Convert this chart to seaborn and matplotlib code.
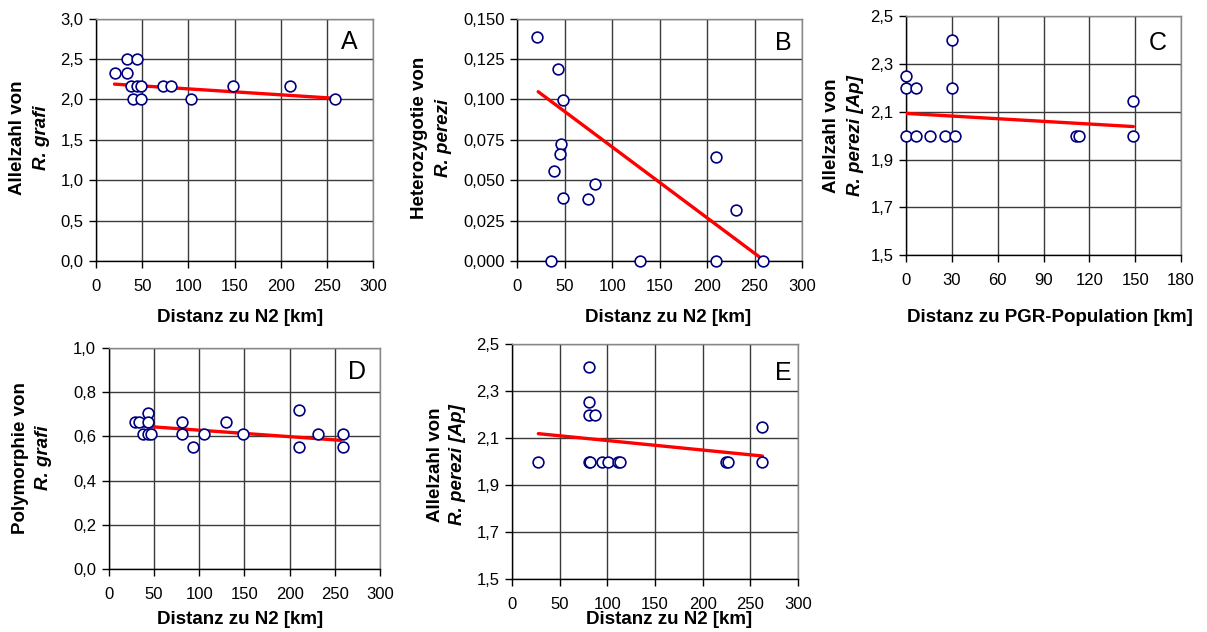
import matplotlib
matplotlib.use("Agg")
import matplotlib.pyplot as plt
import seaborn as sns
import pandas as pd

# ---------------- data ----------------
xA = [20.6, 34, 44.4, 33.6, 37.5, 44, 48.4, 39.7, 48.4, 73, 81, 103, 148, 210, 259]
yA = [2.33, 2.5, 2.5, 2.33, 2.17, 2.17, 2.17, 2.0, 2.0, 2.17, 2.17, 2.0, 2.17, 2.17, 2.0]
lineA_x = [20, 258]
lineA_y = [2.19, 2.015]

xB = [21, 42.9, 47.8, 46.4, 45, 39, 47.8, 74.5, 81.9, 35.5, 129.3, 209.4, 209.4, 230.5, 258.6]
yB = [0.1387, 0.119, 0.0997, 0.0722, 0.0662, 0.0557, 0.0388, 0.0382, 0.0479, 0.0, 0.0, 0.0646, 0.0, 0.0316, 0.0]
lineB_x = [22, 258.6]
lineB_y = [0.1048, 0.001]

xC = [0, 0, 0, 6.5, 6.5, 15.7, 25.3, 30, 30, 31.9, 111.3, 113.5, 148.8, 148.8]
yC = [2.25, 2.2, 2.0, 2.2, 2.0, 2.0, 2.0, 2.4, 2.2, 2.0, 2.0, 2.0, 2.143, 2.0]
lineC_x = [0, 148.8]
lineC_y = [2.093, 2.038]

xD = [29, 34, 44, 44, 37.6, 43.5, 46.4, 80.7, 80.7, 93.6, 105, 129.7, 148, 210.8, 210.8, 231.8, 258.7, 258.7]
yD = [0.663, 0.663, 0.704, 0.663, 0.61, 0.61, 0.61, 0.663, 0.61, 0.55, 0.61, 0.663, 0.61, 0.717, 0.55, 0.61, 0.61, 0.55]
lineD_x = [34.6, 256.5]
lineD_y = [0.647, 0.582]

xE = [27.6, 80.3, 81, 80.3, 87.3, 81, 82, 94.3, 100.6, 111, 113.8, 224.9, 226.3, 262.6, 262.6]
yE = [2.0, 2.402, 2.252, 2.2, 2.2, 2.0, 2.0, 2.0, 2.0, 2.0, 2.0, 2.0, 2.0, 2.147, 2.0]
lineE_x = [27.6, 262.6]
lineE_y = [2.119, 2.024]

xticks_N2 = [0, 50, 100, 150, 200, 250, 300]
xticks_PGR = [0, 30, 60, 90, 120, 150, 180]
yticks_A = [0.0, 0.5, 1.0, 1.5, 2.0, 2.5, 3.0]
yticklabels_A = ["0,0", "0,5", "1,0", "1,5", "2,0", "2,5", "3,0"]
yticks_B = [0.0, 0.025, 0.05, 0.075, 0.1, 0.125, 0.15]
yticklabels_B = ["0,000", "0,025", "0,050", "0,075", "0,100", "0,125", "0,150"]
yticks_Ap = [1.5, 1.7, 1.9, 2.1, 2.3, 2.5]
yticklabels_Ap = ["1,5", "1,7", "1,9", "2,1", "2,3", "2,5"]
yticks_D = [0.0, 0.2, 0.4, 0.6, 0.8, 1.0]
yticklabels_D = ["0,0", "0,2", "0,4", "0,6", "0,8", "1,0"]

xlabel_N2 = "Distanz zu N2 [km]"
xlabel_PGR = "Distanz zu PGR-Population [km]"

# ---------------- style ----------------
sns.set_theme(style="white")
plt.rcParams['font.family'] = ['Liberation Sans', 'DejaVu Sans']

W, H = 1207, 632
fig = plt.figure(figsize=(W / 100, H / 100), dpi=100)


def box(l, t, r, b):
    return [l / W, 1 - b / H, (r - l) / W, (b - t) / H]


panels = [
    dict(name="A", box=(96, 18.7, 373, 261), x=xA, y=yA, lx=lineA_x, ly=lineA_y,
         xt=xticks_N2, yt=yticks_A, ytl=yticklabels_A,
         ylab=("Allelzahl von", "R. grafi"), ylab_px=(18, 42, 138),
         xlab=xlabel_N2, xlab_px=(240, 318), letter_px=(349, 42)),
    dict(name="B", box=(517.3, 18.7, 802, 261), x=xB, y=yB, lx=lineB_x, ly=lineB_y,
         xt=xticks_N2, yt=yticks_B, ytl=yticklabels_B,
         ylab=("Heterozygotie von", "R. perezi"), ylab_px=(420, 443, 138),
         xlab=xlabel_N2, xlab_px=(668, 318), letter_px=(783, 43)),
    dict(name="C", box=(906, 16, 1181, 255.3), x=xC, y=yC, lx=lineC_x, ly=lineC_y,
         xt=xticks_PGR, yt=yticks_Ap, ytl=yticklabels_Ap,
         ylab=("Allelzahl von", "R. perezi [Ap]"), ylab_px=(832, 855, 136),
         xlab=xlabel_PGR, xlab_px=(1050, 317), letter_px=(1158, 43)),
    dict(name="D", box=(108.7, 347.7, 380, 569.3), x=xD, y=yD, lx=lineD_x, ly=lineD_y,
         xt=xticks_N2, yt=yticks_D, ytl=yticklabels_D,
         ylab=("Polymorphie von", "R. grafi"), ylab_px=(21, 44, 458),
         xlab=xlabel_N2, xlab_px=(240, 620), letter_px=(357, 372)),
    dict(name="E", box=(512, 344, 798, 579.3), x=xE, y=yE, lx=lineE_x, ly=lineE_y,
         xt=xticks_N2, yt=yticks_Ap, ytl=yticklabels_Ap,
         ylab=("Allelzahl von", "R. perezi [Ap]"), ylab_px=(435, 458, 465),
         xlab=xlabel_N2, xlab_px=(669, 620), letter_px=(783, 373)),
]

for p in panels:
    ax = fig.add_axes(box(*p["box"]))
    df = pd.DataFrame({"x": p["x"], "y": p["y"]})
    dl = pd.DataFrame({"x": p["lx"], "y": p["ly"]})
    sns.lineplot(data=dl, x="x", y="y", ax=ax, color="#FF0000", linewidth=2.4,
                 zorder=3, sort=False)
    sns.scatterplot(data=df, x="x", y="y", ax=ax, s=60, marker="o",
                    facecolor="white", edgecolor="#000080", linewidth=1.2,
                    zorder=4, clip_on=False)
    ax.set_xlim(p["xt"][0], p["xt"][-1])
    ax.set_ylim(p["yt"][0], p["yt"][-1])
    ax.set_xticks(p["xt"])
    ax.set_xticklabels([str(v) for v in p["xt"]])
    ax.set_yticks(p["yt"])
    ax.set_yticklabels(p["ytl"])
    ax.set_xlabel("")
    ax.set_ylabel("")
    ax.grid(True, color="#3a3a3a", linewidth=1.0)
    ax.set_axisbelow(True)
    ax.tick_params(axis="both", which="major", direction="out", length=5,
                   width=1, color="black", labelsize=12, pad=4,
                   bottom=True, left=True, labelcolor="black")
    ax.tick_params(axis="x", pad=8)
    for s in ["left", "bottom"]:
        ax.spines[s].set_color("black")
        ax.spines[s].set_linewidth(1.0)
    for s in ["top", "right"]:
        ax.spines[s].set_color("#888888")
        ax.spines[s].set_linewidth(1.0)
    # y label (two lines, second italic)
    x1, x2, yc = p["ylab_px"]
    fig.text(x1 / W, 1 - yc / H, p["ylab"][0], rotation=90, ha="center",
             va="center", fontsize=13.5, fontweight="bold", color="black")
    fig.text(x2 / W, 1 - yc / H, p["ylab"][1], rotation=90, ha="center",
             va="center", fontsize=13.5, fontweight="bold", style="italic",
             color="black")
    # x label
    fig.text(p["xlab_px"][0] / W, 1 - p["xlab_px"][1] / H, p["xlab"],
             ha="center", va="center", fontsize=13.5, fontweight="bold",
             color="black")
    # panel letter
    fig.text(p["letter_px"][0] / W, 1 - p["letter_px"][1] / H, p["name"],
             ha="center", va="center", fontsize=18, color="black")

fig.savefig("out.png", dpi=100, facecolor="white")
